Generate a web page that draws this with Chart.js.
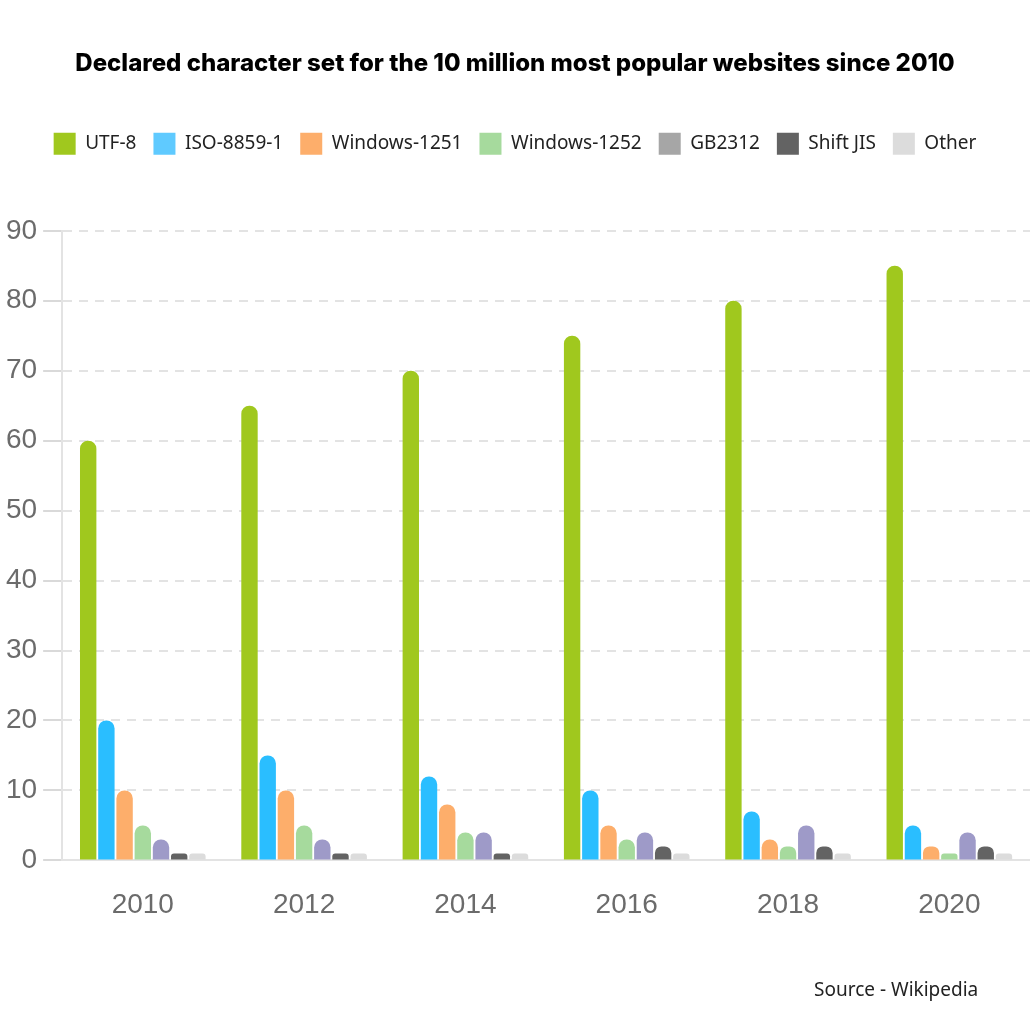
<!DOCTYPE html>
<html>
<head>
<meta charset="utf-8">
<script src="https://cdn.jsdelivr.net/npm/chart.js@4"></script>
<style>
  html, body { margin: 0; padding: 0; background: #ffffff; }
  #wrap { position: relative; width: 1030px; height: 1030px; }
  #source { position: absolute; left: 814px; top: 976px; font-family: "Noto Sans", sans-serif; font-size: 19px; color: #222; }
</style>
</head>
<body>
<div id="wrap">
  <canvas id="c" width="1030" height="1030"></canvas>
  <div id="source">Source - Wikipedia</div>
</div>
<script>
const years = ["2010", "2012", "2014", "2016", "2018", "2020"];
const seriesNames = ["UTF-8", "ISO-8859-1", "Windows-1251", "Windows-1252", "GB2312", "Shift JIS", "Other"];
const utf8 = [60, 65, 70, 75, 80, 85];
const iso88591 = [20, 15, 12, 10, 7, 5];
const win1251 = [10, 10, 8, 5, 3, 2];
const win1252 = [5, 5, 4, 3, 2, 1];
const gb2312 = [3, 3, 4, 4, 5, 4];
const shiftJis = [1, 1, 1, 2, 2, 2];
const other = [1, 1, 1, 1, 1, 1];
const yTicks = [0, 10, 20, 30, 40, 50, 60, 70, 80, 90];

const barColors = ["#a0c81e", "#2abeff", "#fdae6b", "#a6da9d", "#9e9ac8", "#636363", "#dcdcdc"];
const legendColors = ["#a0c81e", "#5fcaff", "#fdae6b", "#a6da9d", "#a6a6a6", "#636363", "#dcdcdc"];
const values = [utf8, iso88591, win1251, win1252, gb2312, shiftJis, other];

const datasets = seriesNames.map((name, i) => ({
  label: name,
  data: values[i],
  backgroundColor: barColors[i],
  borderWidth: 0,
  borderRadius: 8,
  borderSkipped: 'start',
  categoryPercentage: 0.79,
  barPercentage: 0.9
}));

const legendSpacer = {
  id: 'legendSpacer',
  beforeInit(chart) {
    const origFit = chart.legend.fit;
    chart.legend.fit = function () {
      origFit.bind(chart.legend)();
      this.height += 66;
    };
  }
};

new Chart(document.getElementById('c'), {
  type: 'bar',
  data: { labels: years, datasets: datasets },
  plugins: [legendSpacer],
  options: {
    responsive: false,
    animation: false,
    devicePixelRatio: 1,
    layout: { padding: { left: 0, right: 0, top: 0, bottom: 80 } },
    plugins: {
      title: {
        display: true,
        text: 'Declared character set for the 10 million most popular websites since 2010',
        color: '#000000',
        font: { family: 'Inter', size: 24, weight: '800' },
        padding: { top: 49, bottom: 38 }
      },
      legend: {
        display: true,
        position: 'top',
        labels: {
          boxWidth: 22,
          boxHeight: 22,
          padding: 17,
          color: '#222222',
          font: { family: 'Noto Sans', size: 19 },
          generateLabels: (chart) => seriesNames.map((name, i) => ({
            text: name,
            fillStyle: legendColors[i],
            strokeStyle: legendColors[i],
            lineWidth: 0,
            hidden: false,
            datasetIndex: i,
            fontColor: '#222222'
          }))
        }
      },
      tooltip: { enabled: false }
    },
    scales: {
      x: {
        grid: { display: false, drawTicks: false },
        border: { display: true, color: '#e3e3e3', width: 2 },
        ticks: {
          color: '#6b6b6b',
          font: { family: 'Liberation Sans', size: 28 },
          padding: 28
        }
      },
      y: {
        min: 0,
        max: 90,
        afterBuildTicks: (axis) => { axis.ticks = yTicks.map(v => ({ value: v })); },
        grid: {
          color: '#e3e3e3',
          lineWidth: 2,
          drawTicks: true,
          tickLength: 19,
          tickColor: '#d9d9d9',
          tickWidth: 2,
          tickBorderDash: [1, 0]
        },
        border: { display: true, color: '#e3e3e3', width: 2, dash: [9, 7] },
        ticks: {
          color: '#6b6b6b',
          font: { family: 'Liberation Sans', size: 28 },
          padding: 6
        }
      }
    }
  }
});
</script>
</body>
</html>
